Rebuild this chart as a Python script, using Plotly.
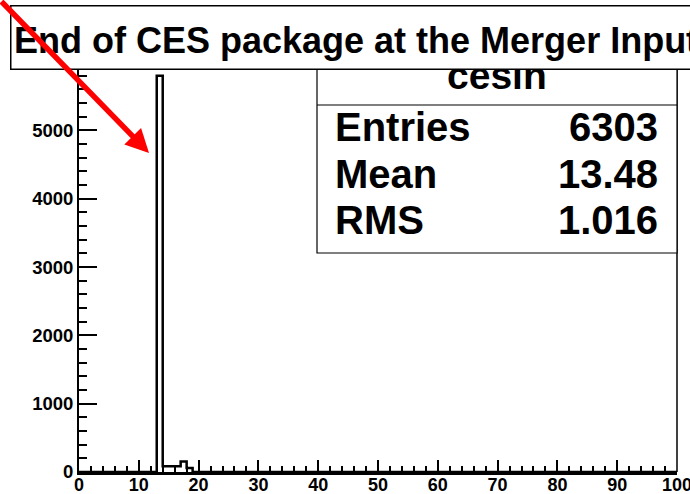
import plotly.graph_objects as go

# ---- data ----
n_bins = 100
x_min, x_max = 0, 100
filled_bins = [13, 14, 15, 16, 17, 18]
filled_counts = [5800, 85, 85, 85, 155, 60]

x_tick_values = [0, 10, 20, 30, 40, 50, 60, 70, 80, 90, 100]
y_tick_values = [0, 1000, 2000, 3000, 4000, 5000]

hist_name = "cesin"
title_text = "End of CES package at the Merger Input"
stat_labels = ["Entries", "Mean", "RMS"]
stat_values = ["6303", "13.48", "1.016"]

y_max = 1.05 * max(filled_counts)

# ---- build step outline from the bins ----
width = (x_max - x_min) / n_bins
counts = [0] * n_bins
for b, c in zip(filled_bins, filled_counts):
    counts[b] = c
edges = [x_min + i * width for i in range(n_bins + 1)]
step_y = counts + [counts[-1]]

W, H = 690, 494
ml, mr, mt, mb = 79, 13, 56, 22
pw, ph = W - ml - mr, H - mt - mb


def px_x(p):
    return (p - ml) / pw


def px_y(p):
    return (H - mb - p) / ph


FONT = "Liberation Sans"

fig = go.Figure()
fig.add_trace(go.Scatter(
    x=edges, y=step_y, mode="lines", line_shape="hv",
    line=dict(color="black", width=2.5), hoverinfo="skip", showlegend=False,
))

fig.update_layout(
    template="none",
    width=W, height=H,
    margin=dict(l=ml, r=mr, t=mt, b=mb, autoexpand=False),
    paper_bgcolor="white", plot_bgcolor="white",
    showlegend=False,
)
fig.update_xaxes(
    automargin=False,
    range=[x_min, x_max], showgrid=False, zeroline=False,
    showline=True, linecolor="black", linewidth=2.5,
    ticks="inside", ticklen=12, tickwidth=1.5, tickcolor="black",
    tickmode="array", tickvals=x_tick_values,
    minor=dict(ticks="inside", ticklen=6, dtick=2, tick0=0, tickwidth=1.5, tickcolor="black", showgrid=False),
    tickfont=dict(family=FONT, size=18, color="black", weight="bold"),
    ticklabeloverflow="allow", ticklabelstandoff=-5,
)
fig.update_yaxes(
    automargin=False,
    range=[0, y_max], showgrid=False, zeroline=False,
    showline=True, linecolor="black", linewidth=2,
    ticks="inside", ticklen=18, tickwidth=1.5, tickcolor="black",
    tickmode="array", tickvals=y_tick_values,
    minor=dict(ticks="inside", ticklen=8, dtick=200, tick0=0, tickwidth=1.5, tickcolor="black", showgrid=False),
    tickfont=dict(family=FONT, size=18.5, color="black", weight="bold"),
    ticklabeloverflow="allow",
)

# right frame border
fig.add_shape(type="line", xref="paper", yref="paper", x0=1, x1=1, y0=0, y1=1.05,
              line=dict(color="black", width=1.5))

# stats box
fig.add_shape(type="rect", xref="paper", yref="paper",
              x0=px_x(317), x1=px_x(677), y0=px_y(253), y1=px_y(50),
              line=dict(color="black", width=1.2), fillcolor="white", layer="above")
fig.add_shape(type="line", xref="paper", yref="paper",
              x0=px_x(317), x1=px_x(677), y0=px_y(105), y1=px_y(105),
              line=dict(color="black", width=1.2), layer="above")

stat_font = dict(family=FONT, size=40, color="black", weight="bold")
fig.add_annotation(xref="paper", yref="paper", x=px_x(497), y=px_y(75.5),
                   text=hist_name, showarrow=False, xanchor="center", yanchor="middle",
                   font=dict(family=FONT, size=39, color="black", weight="bold"))
row_y = [126.5, 174, 220]
for lab, val, yy in zip(stat_labels, stat_values, row_y):
    fig.add_annotation(xref="paper", yref="paper", x=px_x(333), y=px_y(yy),
                       text=lab, showarrow=False, xanchor="left", yanchor="middle",
                       font=stat_font)
    fig.add_annotation(xref="paper", yref="paper", x=px_x(660), y=px_y(yy),
                       text=val, showarrow=False, xanchor="right", yanchor="middle",
                       font=stat_font)

# title box (annotation so it covers the stats header)
fig.add_annotation(xref="paper", yref="paper", x=px_x(10), y=px_y(5),
                   text=" ", showarrow=False, xanchor="left", yanchor="top",
                   width=720, height=60, borderpad=1, borderwidth=1.5,
                   bordercolor="black", bgcolor="white",
                   font=dict(family=FONT, size=10))
fig.add_annotation(xref="paper", yref="paper", x=px_x(12), y=px_y(40.5),
                   text=title_text, showarrow=False, xanchor="left", yanchor="middle",
                   font=dict(family=FONT, size=36, color="black", weight="bold"))

# red arrow
fig.add_annotation(xref="paper", yref="paper", x=px_x(149), y=px_y(153),
                   text="", showarrow=True, arrowhead=2, arrowsize=0.85,
                   arrowwidth=5.5, arrowcolor="#ff0000", ax=-162, ay=-165)

fig.write_html(
    "out.html",
    config={"displayModeBar": False},
    post_script="document.body.style.margin='0';document.body.style.overflow='hidden';",
)
